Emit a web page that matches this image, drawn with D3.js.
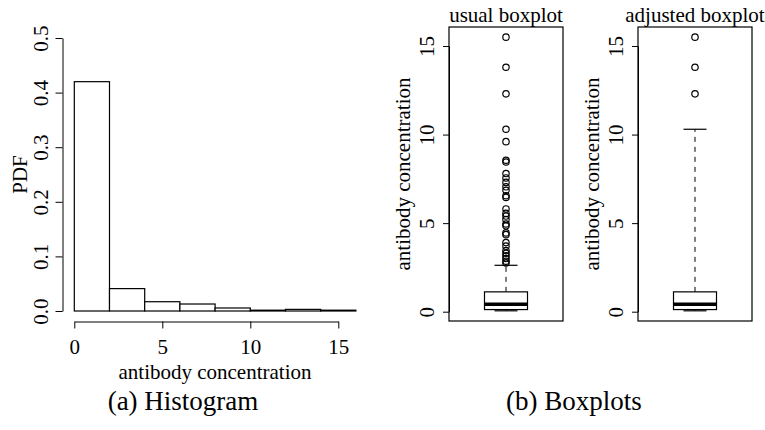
<!DOCTYPE html>
<html lang="en">
<head>
<meta charset="UTF-8">
<title>Antibody concentration</title>
<script src="https://d3js.org/d3.v7.min.js"></script>
<style>
    body { margin: 0; background: #fff; }
    svg { display: block; }
    svg text { font-family: "Liberation Serif", "DejaVu Serif", serif; }
</style>
</head>
<body>
<svg id="chart" width="765" height="430"></svg>
<script>
    // histogram (density scale)
    const histBreaks = [0, 2, 4, 6, 8, 10, 12, 14, 16];
    const histDensity = [0.42, 0.041, 0.017, 0.0128, 0.0055, 0.0015, 0.003, 0.0015];
    const histXTicks = [0, 5, 10, 15];
    const histYTicks = [0, 0.1, 0.2, 0.3, 0.4, 0.5];

    // boxplots
    const panelTitles = ["usual boxplot", "adjusted boxplot"];
    const whiskerLow = [0.05, 0.05];
    const hingeLow = [0.12, 0.12];
    const medians = [0.42, 0.42];
    const hingeHigh = [1.12, 1.12];
    const whiskerHigh = [2.62, 10.3];
    const usualOutliers = [15.5, 13.8, 12.3, 10.3, 9.6, 8.55, 8.45, 7.8, 7.55, 7.3, 7.05, 6.85,
        6.55, 6.45, 5.8, 5.55, 5.4, 5.2, 4.95, 4.85, 4.45, 4.35, 3.9, 3.7, 3.45, 3.3, 3.15, 3.0, 2.85, 2.75];
    const adjustedOutliers = [15.5, 13.8, 12.3];
    const boxYTicks = [0, 5, 10, 15];

    const captions = ["(a) Histogram", "(b) Boxplots"];

    const svg = d3.select("#chart");
    const fs = 21;
    const serif = "Liberation Serif, DejaVu Serif, serif";

    function styleAxis(g) {
        g.attr("font-family", serif).attr("font-size", fs);
        g.selectAll("path, line").attr("stroke", "#000").attr("stroke-width", 1);
        g.selectAll("text").attr("fill", "#000").attr("font-family", serif);
    }

    // ---- histogram ----
    const hx = d3.scaleLinear().domain([0, 15]).range([74.3, 338.3]);
    const hy = d3.scaleLinear().domain([0, 0.5]).range([311, 38]);

    svg.append("g").selectAll("rect")
        .data(histDensity)
        .join("rect")
        .attr("x", (d, i) => hx(histBreaks[i]))
        .attr("width", (d, i) => hx(histBreaks[i + 1]) - hx(histBreaks[i]))
        .attr("y", d => hy(d))
        .attr("height", d => hy(0) - hy(d))
        .attr("fill", "#fff")
        .attr("stroke", "#000")
        .attr("stroke-width", 1.2);

    const hxAxis = svg.append("g")
        .attr("transform", "translate(0,321.5)")
        .call(d3.axisBottom(hx).tickValues(histXTicks).tickSize(7).tickSizeOuter(0))
        .call(styleAxis);
    hxAxis.selectAll("text").attr("y", 32.5).attr("dy", 0);

    const hyAxis = svg.append("g")
        .attr("transform", "translate(62.5,0)")
        .call(d3.axisLeft(hy).tickValues(histYTicks).tickSize(7).tickSizeOuter(0)
            .tickFormat(d3.format(".1f")))
        .call(styleAxis);
    hyAxis.selectAll("text")
        .attr("transform", "rotate(-90)")
        .attr("x", 0).attr("y", -14.5).attr("dy", 0)
        .attr("text-anchor", "middle");

    svg.append("text")
        .attr("x", 215).attr("y", 379)
        .attr("text-anchor", "middle").attr("font-size", fs).attr("font-family", serif)
        .text("antibody concentration");

    svg.append("text")
        .attr("transform", "translate(26.5,174.5) rotate(-90)")
        .attr("text-anchor", "middle").attr("font-size", fs).attr("font-family", serif)
        .text("PDF");

    // ---- boxplots ----
    const panelLeft = [449, 638];
    const panelWidth = 114, panelTop = 27, panelBottom = 321;
    const by = d3.scaleLinear().domain([0, 15]).range([311.7, 46]);
    const outliers = [usualOutliers, adjustedOutliers];

    panelTitles.forEach((title, i) => {
        const left = panelLeft[i];
        const cx = left + panelWidth / 2;
        const g = svg.append("g");

        // whiskers
        [[hingeLow[i], whiskerLow[i]], [hingeHigh[i], whiskerHigh[i]]].forEach(([a, b]) => {
            g.append("line")
                .attr("x1", cx).attr("x2", cx)
                .attr("y1", by(a)).attr("y2", by(b))
                .attr("stroke", "#000").attr("stroke-dasharray", "5,5");
            g.append("line")
                .attr("x1", cx - 11.5).attr("x2", cx + 11.5)
                .attr("y1", by(b)).attr("y2", by(b))
                .attr("stroke", "#000").attr("stroke-width", 1.2);
        });

        g.append("rect")
            .attr("x", cx - 21.5).attr("width", 43)
            .attr("y", by(hingeHigh[i]))
            .attr("height", by(hingeLow[i]) - by(hingeHigh[i]))
            .attr("fill", "#fff").attr("stroke", "#000").attr("stroke-width", 1.2);

        g.append("line")
            .attr("x1", cx - 21.5).attr("x2", cx + 21.5)
            .attr("y1", by(medians[i])).attr("y2", by(medians[i]))
            .attr("stroke", "#000").attr("stroke-width", 3.5);

        g.selectAll("circle")
            .data(outliers[i])
            .join("circle")
            .attr("cx", cx).attr("cy", d => by(d))
            .attr("r", 3.2)
            .attr("fill", "none").attr("stroke", "#000").attr("stroke-width", 1.2);

        // frame
        g.append("rect")
            .attr("x", left).attr("y", panelTop)
            .attr("width", panelWidth).attr("height", panelBottom - panelTop)
            .attr("fill", "none").attr("stroke", "#000").attr("stroke-width", 1.2);

        const ax = svg.append("g")
            .attr("transform", `translate(${left},0)`)
            .call(d3.axisLeft(by).tickValues(boxYTicks).tickSize(6).tickSizeOuter(0))
            .call(styleAxis);
        ax.selectAll("text")
            .attr("transform", "rotate(-90)")
            .attr("x", 0).attr("y", -15.5).attr("dy", 0)
            .attr("text-anchor", "middle");

        svg.append("text")
            .attr("transform", `translate(${left - 39},174) rotate(-90)`)
            .attr("text-anchor", "middle").attr("font-size", fs).attr("font-family", serif)
            .text("antibody concentration");

        svg.append("text")
            .attr("x", cx).attr("y", 22)
            .attr("text-anchor", "middle").attr("font-size", fs).attr("font-family", serif)
            .text(title);
    });

    // ---- captions ----
    const captionX = [183, 574];
    svg.selectAll(".caption")
        .data(captions)
        .join("text")
        .attr("class", "caption")
        .attr("x", (d, i) => captionX[i]).attr("y", 410)
        .attr("text-anchor", "middle").attr("font-size", 27).attr("font-family", serif)
        .text(d => d);
</script>
</body>
</html>
